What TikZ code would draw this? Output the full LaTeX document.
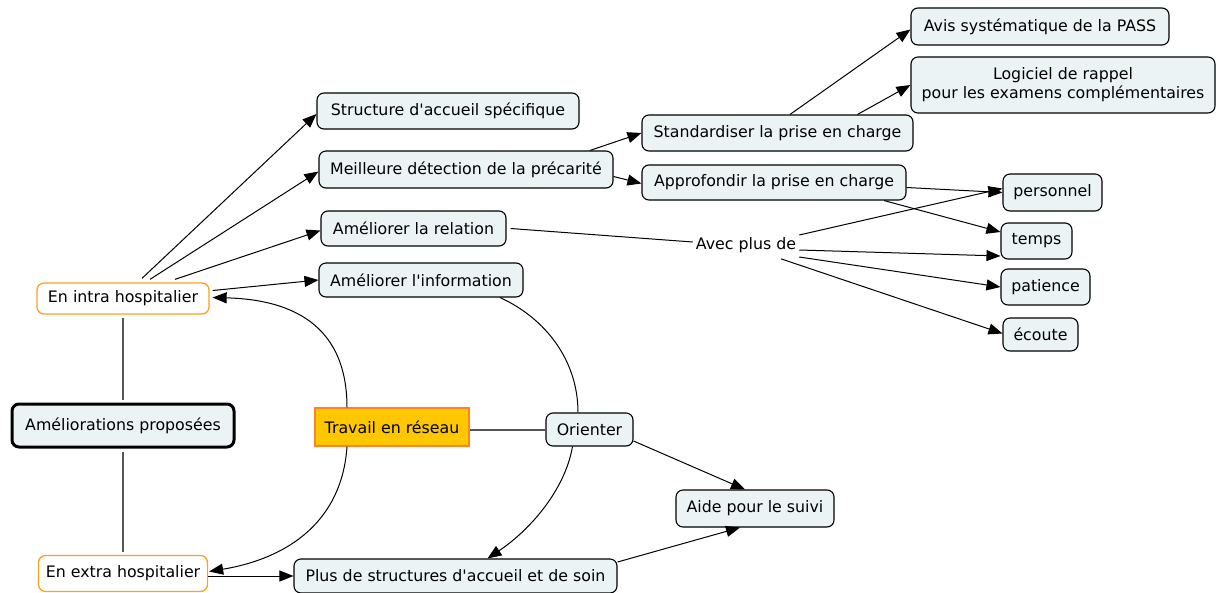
\documentclass[tikz,border=0pt]{standalone}
\usepackage{fontspec}
\setmainfont{DejaVu Sans}
\usetikzlibrary{arrows.meta,calc}
\definecolor{boxfill}{RGB}{236,243,245}
\definecolor{orangeline}{RGB}{255,160,30}
\definecolor{travfill}{RGB}{255,199,0}
\definecolor{travline}{RGB}{255,130,40}
\definecolor{linkgray}{RGB}{85,85,85}
\newcommand{\apos}{\textquotesingle}
\begin{document}
\begin{tikzpicture}[x=1pt,y=-1pt,
  every node/.style={font=\fontsize{15.8}{19}\selectfont, inner xsep=6pt, inner ysep=2pt},
  concept/.style={draw=black, line width=1.1pt, fill=boxfill, rounded corners=7pt, align=center},
  root/.style={concept, line width=3pt},
  orangebox/.style={draw=orangeline, line width=1.3pt, fill=white, rounded corners=7pt},
  netbox/.style={draw=travline, line width=1.3pt, fill=travfill},
  phrase/.style={inner xsep=3pt, inner ysep=3pt},
  arr/.style={-{Triangle[length=14pt,width=11pt]}, line width=1pt, black},
  plain/.style={line width=1pt, black},
  graylink/.style={line width=1.4pt, linkgray}
]
\useasboundingbox (0,0) rectangle (1216,592);

% nodes
\node[root, minimum width=222pt, minimum height=43pt] (amel) at (123,425.5) {Améliorations proposées};
\node[orangebox, minimum width=172pt, minimum height=31pt] (intra) at (123,298.5) {En intra hospitalier};
\node[orangebox, minimum width=169pt, minimum height=36pt] (extra) at (123,573.5) {En extra hospitalier};
\node[concept, minimum width=262pt, minimum height=36pt] (struct) at (448,111) {Structure d\apos accueil spécifique};
\node[concept, minimum width=294pt, minimum height=37pt] (meill) at (466,169.5) {Meilleure détection de la précarité};
\node[concept, minimum width=185pt, minimum height=35pt] (relat) at (413.5,228.5) {Améliorer la relation};
\node[concept, minimum width=204pt, minimum height=34pt] (info) at (421,280) {Améliorer l\apos information};
\node[concept, minimum width=271pt, minimum height=36pt] (stand) at (777.5,133) {Standardiser la prise en charge};
\node[concept, minimum width=264pt, minimum height=35pt] (appro) at (774,182.5) {Approfondir la prise en charge};
\node[concept, minimum width=258pt, minimum height=37pt] (avis) at (1040,26.5) {Avis systématique de la PASS};
\node[concept, minimum width=304pt, minimum height=56pt] (logic) at (1063,85) {Logiciel de rappel\\pour les examens complémentaires};
\node[concept, minimum width=99pt, minimum height=37pt] (perso) at (1052.5,192.5) {personnel};
\node[concept, minimum width=71pt, minimum height=36pt] (temps) at (1036.5,241) {temps};
\node[concept, minimum width=89pt, minimum height=36pt] (patie) at (1045.5,287) {patience};
\node[concept, minimum width=75pt, minimum height=33pt] (ecout) at (1040.5,334.5) {écoute};
\node[phrase] (avec) at (746,245) {Avec plus de};
\node[netbox, minimum width=154pt, minimum height=38pt] (trav) at (392,427) {Travail en réseau};
\node[concept, minimum width=87pt, minimum height=33pt] (orient) at (589.5,429.5) {Orienter};
\node[concept, minimum width=158pt, minimum height=37pt] (aide) at (755,508.5) {Aide pour le suivi};
\node[concept, minimum width=323pt, minimum height=34pt] (plus) at (455.5,576) {Plus de structures d\apos accueil et de soin};

% plain links
\draw[graylink] ([yshift=-3pt]intra.south) -- ([yshift=3pt]amel.north);
\draw[graylink] ([yshift=-3pt]amel.south) -- ([yshift=3pt]extra.north);
\draw[graylink] ([yshift=-3pt]trav.east) -- ([yshift=-0.5pt]orient.west);

% arrows from intra
\draw[arr] ([xshift=19pt,yshift=4pt]intra.north) -- ([yshift=-3pt]struct.west);
\draw[arr] ([xshift=27pt,yshift=3pt]intra.north) -- ([yshift=-2pt]meill.west);
\draw[arr] ([xshift=52pt,yshift=3pt]intra.north) -- ([yshift=-2pt]relat.west);
\draw[arr] ([xshift=3pt,yshift=8pt]intra.east) -- (info.west);

\draw[arr] ([xshift=124pt]meill.north) -- (stand.west);
\draw[arr] ([yshift=-7pt]meill.east) -- ([yshift=-1pt]appro.west);
\draw[arr] ([xshift=12.5pt]stand.north) -- ([yshift=-3pt]avis.west);
\draw[arr] ([xshift=80pt]stand.north) -- (logic.west);
\draw[arr] ([yshift=-5pt]appro.east) -- (perso.west);
\draw[arr] ([xshift=110pt]appro.south) -- ([yshift=9pt]temps.west);

\draw[plain] ([xshift=4pt]relat.east) -- ([yshift=3pt]avec.west);
\draw[arr] ([yshift=10pt]avec.east) -- ([yshift=4pt]perso.west);
\draw[arr] ([yshift=-5pt]avec.east) -- ([yshift=-15pt]temps.west);
\draw[arr] ([yshift=-12pt]avec.east) -- (patie.west);
\draw[arr] ([xshift=35pt,yshift=-3pt]avec.south) -- ([yshift=1pt]ecout.west);

% curves
\draw[plain] ([xshift=79pt]info.south) .. controls (545,318) and (578,360) .. ([xshift=-11.5pt]orient.north);
\draw[arr] ([xshift=-45pt]trav.north) .. controls (347,340) and (310,300) .. ([xshift=3pt,yshift=1pt]intra.east);
\draw[arr] ([xshift=-45pt]trav.south) .. controls (342,520) and (290,558) .. ([xshift=1pt,yshift=2pt]extra.east);
\draw[arr] ([xshift=-17pt]orient.south) .. controls (565,490) and (530,530) .. ([xshift=32pt]plus.north);
\draw[arr] ([yshift=-11.5pt]orient.east) -- ([xshift=-10pt]aide.north);
\draw[arr] ([yshift=-2.5pt]extra.east) -- (plus.west);
\draw[arr] ([yshift=14pt]plus.east) -- ([xshift=-15pt]aide.south);
\end{tikzpicture}
\end{document}
